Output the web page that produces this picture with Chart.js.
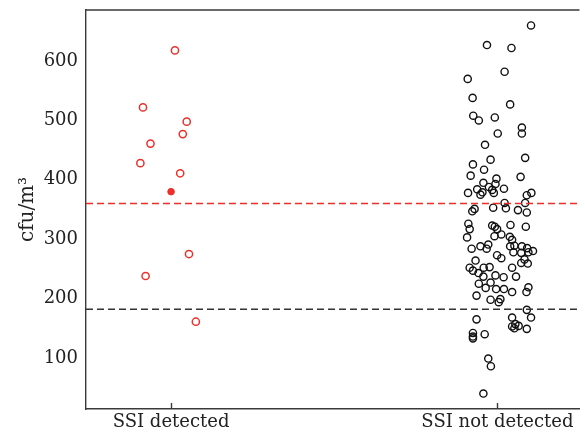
<!DOCTYPE html>
<html>
<head>
<meta charset="utf-8">
<script src="https://cdn.jsdelivr.net/npm/chart.js"></script>
<style>
    body { margin: 0; background: #fff; }
    canvas { display: block; }
</style>
</head>
<body>
<canvas id="chart" width="585" height="433"></canvas>
<script>
// Data
const categories = ["SSI detected", "SSI not detected"]
const yTicks = [100, 200, 300, 400, 500, 600]

const detectedValues = [618, 522, 498, 477, 461, 428, 411, 275, 238, 161]
const detectedJitter = [0.012, -0.086, 0.048, 0.036, -0.063, -0.094, 0.028, 0.055, -0.078, 0.076]
const detectedMarker = [380]

const notDetectedValues = [
    660, 627, 622, 582, 570, 538, 527, 508, 500, 505,
    488, 478, 478, 459, 437, 434, 426, 417, 407, 405,
    402, 395, 393, 388, 384, 383, 385, 378, 375, 379,
    378, 378, 374, 361, 361, 352, 353, 351, 347, 349,
    345, 326, 317, 323, 321, 317, 324, 321, 303, 305,
    308, 304, 299, 284, 288, 291, 284, 288, 289, 288,
    285, 280, 278, 278, 277, 273, 268, 264, 266, 260,
    259, 252, 247, 252, 253, 243, 252, 237, 239, 236,
    237, 225, 218, 227, 216, 216, 211, 205, 198, 194,
    199, 219, 211, 181, 168, 165, 168, 153, 157, 150,
    154, 149, 142, 136, 133, 140, 99, 86, 40,
]
const notDetectedJitter = [
    0.103, -0.032, 0.043, 0.022, -0.091, -0.076, 0.039, -0.074, -0.057, -0.008,
    0.075, 0.075, 0.001, -0.038, 0.085, -0.021, -0.075, -0.041, -0.082, 0.071,
    -0.003, -0.043, -0.006, -0.026, -0.062, -0.016, 0.020, -0.090, -0.052, -0.046,
    -0.011, 0.104, 0.090, 0.085, 0.022, 0.026, -0.013, -0.070, -0.077, 0.063,
    0.090, -0.089, -0.085, -0.016, -0.008, -0.001, 0.040, 0.087, -0.093, -0.009,
    0.012, 0.038, 0.045, -0.079, -0.052, -0.028, -0.033, 0.039, 0.052, 0.075,
    0.091, 0.109, 0.095, 0.049, 0.073, -0.001, 0.012, -0.067, 0.083, 0.073,
    0.093, -0.085, -0.075, -0.042, -0.024, -0.058, 0.045, -0.043, -0.006, 0.019,
    0.057, -0.057, -0.036, -0.021, -0.004, 0.020, 0.045, -0.064, -0.021, 0.004,
    0.009, 0.095, 0.089, 0.090, 0.103, -0.064, 0.045, 0.045, 0.055, 0.052,
    0.065, 0.090, -0.075, -0.075, -0.075, -0.039, -0.028, -0.020, -0.043,
]

const redLine = 360
const blackLine = 182

const xMin = 0.7394
const xMax = 2.2515

const red = "#ec2f2a"
const black = "#111111"
const frame = "#3a3a3a"

// Frame along the top and small inward ticks on the x axis
const framePlugin = {
    id: "frame",
    afterDraw(chart) {
        const { ctx, chartArea } = chart
        const x = chart.scales.x
        ctx.save()
        ctx.strokeStyle = frame
        ctx.lineWidth = 1.4
        ctx.beginPath()
        ctx.moveTo(chartArea.left, chartArea.top)
        ctx.lineTo(chartArea.right, chartArea.top)
        categories.forEach((c, i) => {
            const px = Math.round(x.getPixelForValue(i + 1)) + 0.5
            ctx.moveTo(px, chartArea.bottom)
            ctx.lineTo(px, chartArea.bottom - 6)
        })
        ctx.stroke()
        ctx.restore()
    },
}

const font = { family: "'DejaVu Serif', serif", size: 18 }

new Chart(document.getElementById("chart"), {
    type: "scatter",
    data: {
        datasets: [
            {
                data: [{ x: xMin, y: redLine }, { x: xMax, y: redLine }],
                type: "line",
                borderColor: red,
                borderWidth: 1.6,
                borderDash: [7, 4],
                pointRadius: 0,
            },
            {
                data: [{ x: xMin, y: blackLine }, { x: xMax, y: blackLine }],
                type: "line",
                borderColor: "#333333",
                borderWidth: 1.5,
                borderDash: [7, 4],
                pointRadius: 0,
            },
            {
                data: detectedValues.map((v, i) => ({ x: 1 + detectedJitter[i], y: v })),
                borderColor: red,
                backgroundColor: "rgba(0,0,0,0)",
                borderWidth: 1.5,
                pointRadius: 3.6,
            },
            {
                data: detectedMarker.map((v) => ({ x: 1, y: v })),
                borderColor: red,
                backgroundColor: red,
                borderWidth: 1,
                pointRadius: 3.3,
            },
            {
                data: notDetectedValues.map((v, i) => ({ x: 2 + notDetectedJitter[i], y: v })),
                borderColor: black,
                backgroundColor: "rgba(0,0,0,0)",
                borderWidth: 1.4,
                pointRadius: 3.6,
            },
        ],
    },
    options: {
        responsive: false,
        animation: false,
        layout: { padding: { top: 10, right: 0, bottom: 0, left: 0 } },
        plugins: {
            legend: { display: false },
            tooltip: { enabled: false },
        },
        scales: {
            x: {
                type: "linear",
                min: xMin,
                max: xMax,
                grid: { display: false, drawTicks: false },
                border: { display: true, color: frame, width: 1.4 },
                afterBuildTicks: (scale) => {
                    scale.ticks = categories.map((c, i) => ({ value: i + 1 }))
                },
                afterFit: (scale) => {
                    scale.height = 24
                },
                ticks: {
                    padding: 3,
                    maxRotation: 0,
                    color: "#222",
                    font: font,
                    callback: (v) => categories[Math.round(v) - 1],
                },
            },
            y: {
                min: 14,
                max: 686,
                grid: { display: false, drawTicks: false },
                border: { display: true, color: frame, width: 1.4 },
                afterBuildTicks: (scale) => {
                    scale.ticks = yTicks.map((v) => ({ value: v }))
                },
                afterFit: (scale) => {
                    scale.width = 86
                    scale.paddingTop = 0
                    scale.paddingBottom = 0
                },
                ticks: {
                    padding: 8,
                    color: "#222",
                    font: font,
                },
                title: {
                    display: true,
                    text: "cfu/m³",
                    color: "#222",
                    font: { family: "'DejaVu Serif', serif", size: 20 },
                    padding: { top: 16 },
                },
            },
        },
    },
    plugins: [framePlugin],
})
</script>
</body>
</html>
